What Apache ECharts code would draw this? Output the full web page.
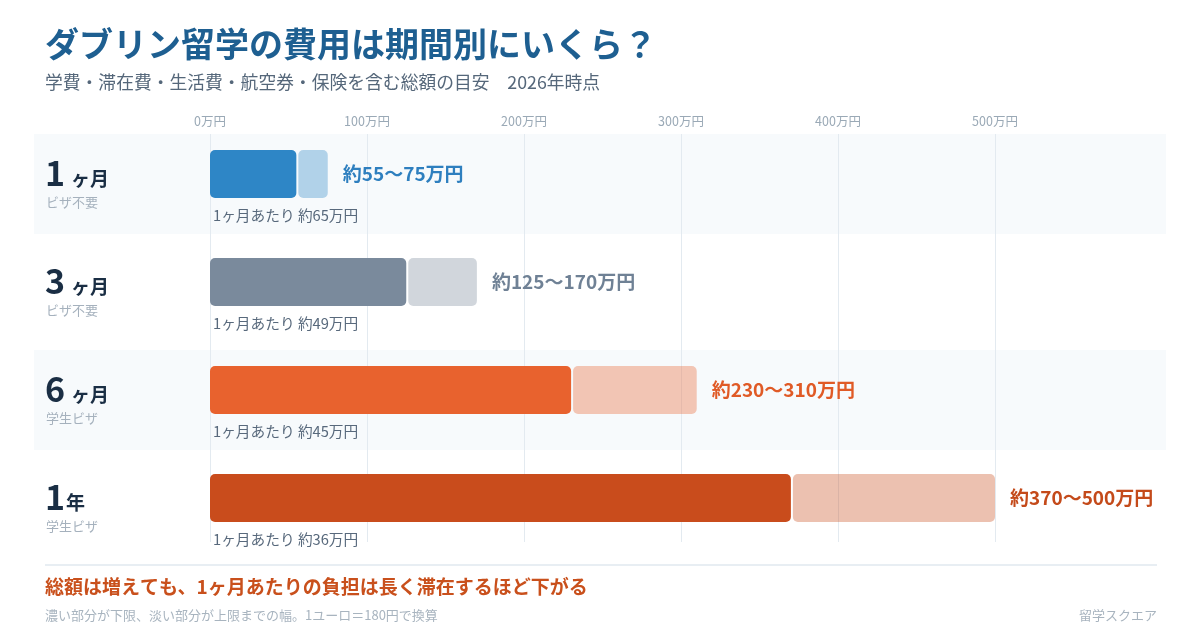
<!DOCTYPE html>
<html>
<head>
<meta charset="utf-8">
<script src="https://cdn.jsdelivr.net/npm/echarts@6/dist/echarts.min.js"></script>
<style>
    html, body { margin: 0; padding: 0; background: #fff; }
    #main { width: 1200px; height: 640px; }
</style>
</head>
<body>
<div id="main"></div>
<script>
// 期間ごとの費用（万円）
var durations = ['1', '3', '6', '1'];
var units = ['ヶ月', 'ヶ月', 'ヶ月', '年'];
var visas = ['ビザ不要', 'ビザ不要', '学生ビザ', '学生ビザ'];
var costLow = [55, 125, 230, 370];
var costHigh = [75, 170, 310, 500];
var perMonth = [65, 49, 45, 36];
var axisTicks = [0, 100, 200, 300, 400, 500];

var barColors = ['#2e86c6', '#7a8a9c', '#e8622e', '#c94c1c'];
var labelColors = ['#2e7fbf', '#6f8195', '#e05a26', '#c44a1a'];
var FONT = '"Noto Sans CJK JP", "Noto Sans", sans-serif';

var chart = echarts.init(document.getElementById('main'));

var rows = costLow.map(function (v, i) {
    return [i, v, costHigh[i]];
});

// 背景の帯（奇数行のみ）
function renderBand(params, api) {
    var i = api.value(0);
    if (i % 2 === 1) {
        return;
    }
    var c = api.coord([0, i]);
    var h = api.size([0, 1])[1];
    return {
        type: 'rect',
        shape: { x: 34, y: c[1] - h / 2 + 4, width: 1132, height: h - 8 },
        style: { fill: '#f7fafc' }
    };
}

// 下限（濃）と上限までの幅（淡）
function renderBar(params, api) {
    var i = api.value(0),
        lo = api.value(1),
        hi = api.value(2);
    var c0 = api.coord([0, i]),
        c1 = api.coord([lo, i]),
        c2 = api.coord([hi, i]);
    var mid = c0[1] - 10;
    var col = barColors[i];
    var gap = units[i] === '年' ? 1 : 6;
    return {
        type: 'group',
        children: [
            {
                type: 'rect',
                shape: { x: c0[0], y: mid - 24, width: c1[0] - c0[0], height: 48, r: 5 },
                style: { fill: col }
            },
            {
                type: 'rect',
                shape: { x: c1[0] + 2, y: mid - 24, width: c2[0] - c1[0] - 2, height: 48, r: 5 },
                style: { fill: col, opacity: 0.35 }
            },
            {
                type: 'text',
                x: c2[0] + 15,
                y: mid,
                style: {
                    text: '約' + lo + '〜' + hi + '万円',
                    fill: labelColors[i],
                    font: 'bold 19px ' + FONT,
                    verticalAlign: 'middle'
                }
            },
            {
                type: 'text',
                x: c0[0] + 3,
                y: c0[1] + 31,
                style: {
                    text: '1ヶ月あたり 約' + perMonth[i] + '万円',
                    fill: '#58697c',
                    font: '14.7px ' + FONT,
                    verticalAlign: 'middle'
                }
            },
            {
                type: 'text',
                x: 45,
                y: c0[1] - 12,
                style: {
                    text: '{n|' + durations[i] + '}{u|' + units[i] + '}',
                    verticalAlign: 'middle',
                    rich: {
                        n: { fontFamily: FONT, fontSize: 34, fontWeight: 'bold', fill: '#1a2e44', lineHeight: 36, verticalAlign: 'bottom' },
                        u: { fontFamily: FONT, fontSize: 19, fontWeight: 'bold', fill: '#1a2e44', lineHeight: 26, verticalAlign: 'bottom', padding: [0, 0, 2, gap] }
                    }
                }
            },
            {
                type: 'text',
                x: 46,
                y: c0[1] + 18,
                style: {
                    text: visas[i],
                    fill: '#a5b1bd',
                    font: '13px ' + FONT,
                    verticalAlign: 'middle'
                }
            }
        ]
    };
}

var option = {
    backgroundColor: '#fff',
    animation: false,
    title: [
        {
            text: 'ダブリン留学の費用は期間別にいくら？',
            left: 45, top: 27, padding: 0,
            textStyle: { fontFamily: FONT, fontSize: 34, fontWeight: 'bold', color: '#1e5f91' }
        },
        {
            text: '学費・滞在費・生活費・航空券・保険を含む総額の目安　2026年時点',
            left: 45, top: 73, padding: 0,
            textStyle: { fontFamily: FONT, fontSize: 17.8, fontWeight: 'normal', color: '#55677a' }
        },
        {
            text: '総額は増えても、1ヶ月あたりの負担は長く滞在するほど下がる',
            left: 45, top: 577, padding: 0,
            textStyle: { fontFamily: FONT, fontSize: 19, fontWeight: 'bold', color: '#c9501c' }
        },
        {
            text: '濃い部分が下限、淡い部分が上限までの幅。1ユーロ＝180円で換算',
            left: 45, top: 609, padding: 0,
            textStyle: { fontFamily: FONT, fontSize: 13, fontWeight: 'normal', color: '#a8b4bf' }
        },
        {
            text: '留学スクエア',
            right: 43, top: 609, padding: 0,
            textStyle: { fontFamily: FONT, fontSize: 13, fontWeight: 'normal', color: '#a8b4bf' }
        }
    ],
    graphic: [
        {
            type: 'line',
            shape: { x1: 45, y1: 565, x2: 1157, y2: 565 },
            style: { stroke: '#e8eef3', lineWidth: 2 }
        }
    ],
    grid: [
        { left: 210, right: 205, top: 130, height: 432 },
        { left: 210, right: 205, top: 134, bottom: 98 }
    ],
    xAxis: [
        {
            gridIndex: 0, type: 'value', show: false,
            min: axisTicks[0], max: axisTicks[axisTicks.length - 1]
        },
        {
            gridIndex: 1, type: 'value', position: 'top', z: 1,
            min: axisTicks[0], max: axisTicks[axisTicks.length - 1],
            interval: axisTicks[1] - axisTicks[0],
            axisLine: { show: false },
            axisTick: { show: false },
            axisLabel: {
                formatter: '{value}万円', color: '#9aa9b6', fontSize: 12.5,
                fontFamily: FONT, margin: 6
            },
            splitLine: { lineStyle: { color: '#e3eaf0', width: 1 } }
        }
    ],
    yAxis: [
        {
            gridIndex: 0, type: 'category', inverse: true, show: false,
            data: durations.map(function (d, i) { return d + units[i]; })
        },
        { gridIndex: 1, type: 'value', show: false }
    ],
    series: [
        {
            type: 'custom', xAxisIndex: 0, yAxisIndex: 0, z: 0,
            renderItem: renderBand,
            encode: { x: [1, 2], y: 0 },
            data: rows
        },
        {
            type: 'custom', xAxisIndex: 0, yAxisIndex: 0, z: 2,
            renderItem: renderBar,
            encode: { x: [1, 2], y: 0 },
            data: rows
        }
    ]
};

chart.setOption(option);
</script>
</body>
</html>
